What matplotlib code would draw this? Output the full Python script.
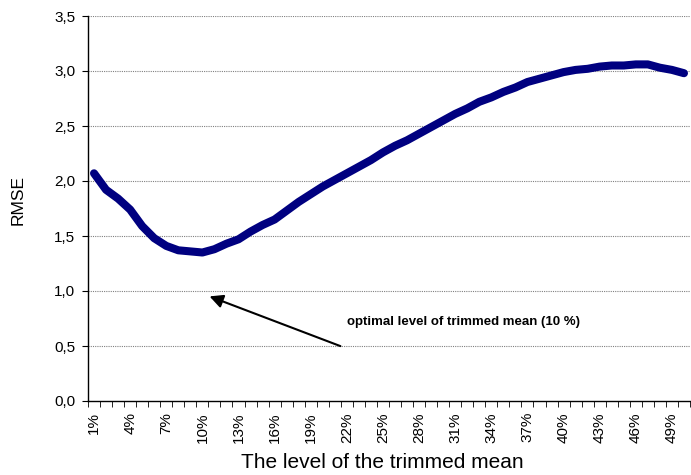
import matplotlib.pyplot as plt
import numpy as np

plt.rcParams['font.family'] = ['Liberation Sans', 'DejaVu Sans']

# trimming level (%) and RMSE
levels = list(range(1, 51))
rmse = [2.07, 1.92, 1.84, 1.74, 1.59, 1.48, 1.41, 1.37, 1.36, 1.35,
        1.38, 1.43, 1.47, 1.54, 1.60, 1.65, 1.73, 1.81, 1.88, 1.95,
        2.01, 2.07, 2.13, 2.19, 2.26, 2.32, 2.37, 2.43, 2.49, 2.55,
        2.61, 2.66, 2.72, 2.76, 2.81, 2.85, 2.90, 2.93, 2.96, 2.99,
        3.01, 3.02, 3.04, 3.05, 3.05, 3.06, 3.06, 3.03, 3.01, 2.98]
yticks = [0.0, 0.5, 1.0, 1.5, 2.0, 2.5, 3.0, 3.5]
label_levels = levels[::3]

fig = plt.figure(figsize=(6.91, 4.75), dpi=100)
ax = fig.add_axes([88 / 691, 74 / 475, 602 / 691, 385 / 475])

for y in yticks[1:]:
    ax.axhline(y, color='#808080', linestyle=(0, (1, 1)), linewidth=0.8, zorder=1)

ax.plot(levels, rmse, color='#000080', linewidth=5.8, solid_capstyle='round',
        solid_joinstyle='round', zorder=3)

ax.set_xlim(0.5, 50.5)
ax.set_ylim(0, 3.5)
ax.set_yticks(yticks)
ax.set_yticklabels([f'{v:.1f}'.replace('.', ',') for v in yticks], fontsize=11)
ax.set_xticks(label_levels)
ax.set_xticklabels([f'{v}%' for v in label_levels], rotation=90, fontsize=11)
ax.set_xticks(np.arange(0.5, 51, 1), minor=True)
ax.tick_params(axis='x', which='major', length=0, pad=8)
ax.tick_params(axis='x', which='minor', length=4, direction='out', color='black')
ax.tick_params(axis='y', length=4, direction='out', pad=5)

for s in ['top', 'right']:
    ax.spines[s].set_visible(False)
ax.spines['left'].set_linewidth(1)
ax.spines['bottom'].set_linewidth(1)

fig.text(18 / 691, 1 - 200 / 475, 'RMSE', fontsize=12.5, rotation=90,
         ha='center', va='center')
fig.text(382 / 691, 1 - 468 / 475, 'The level of the trimmed mean', fontsize=15,
         ha='center', va='baseline')

ax.annotate('', xy=(10.38, 0.96), xytext=(21.68, 0.49),
            arrowprops=dict(arrowstyle='-|>', color='black', lw=1.5,
                            mutation_scale=20))
ax.text(22.0, 0.72, 'optimal level of trimmed mean (10 %)', fontsize=9.5,
        fontweight='bold', va='center', ha='left')

fig.savefig('out.png', dpi=100)
